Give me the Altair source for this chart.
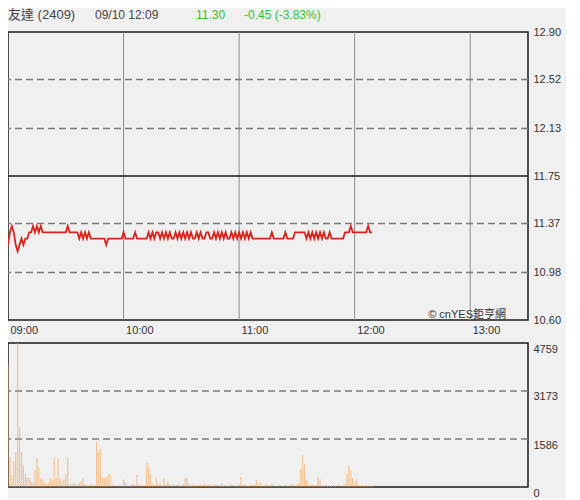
import json
import altair as alt
import pandas as pd

# ---------------- data ----------------
MINUTES = list(range(190))  # minutes after 09:00, last = 12:09

PRICE = [
    11.20, 11.30, 11.35, 11.30, 11.20, 11.15, 11.20, 11.25, 11.20, 11.25,
    11.25, 11.30, 11.30, 11.35, 11.30, 11.35, 11.30, 11.35, 11.30, 11.30,
    11.30, 11.30, 11.30, 11.30, 11.30, 11.30, 11.30, 11.30, 11.30, 11.30,
    11.30, 11.35, 11.30, 11.30, 11.30, 11.30, 11.30, 11.25, 11.30, 11.25,
    11.30, 11.25, 11.30, 11.25, 11.25, 11.25, 11.25, 11.25, 11.25, 11.25,
    11.25, 11.20, 11.25, 11.25, 11.25, 11.25, 11.25, 11.25, 11.25, 11.25,
    11.30, 11.25, 11.25, 11.25, 11.25, 11.25, 11.30, 11.25, 11.25, 11.25,
    11.25, 11.25, 11.25, 11.30, 11.25, 11.30, 11.25, 11.30, 11.30, 11.25,
    11.30, 11.25, 11.30, 11.25, 11.30, 11.25, 11.25, 11.30, 11.25, 11.30,
    11.25, 11.30, 11.25, 11.30, 11.25, 11.30, 11.25, 11.25, 11.30, 11.25,
    11.30, 11.25, 11.25, 11.30, 11.30, 11.25, 11.25, 11.30, 11.25, 11.30,
    11.25, 11.30, 11.25, 11.30, 11.25, 11.25, 11.30, 11.25, 11.30, 11.25,
    11.30, 11.25, 11.30, 11.25, 11.30, 11.25, 11.30, 11.25, 11.25, 11.25,
    11.25, 11.25, 11.25, 11.25, 11.25, 11.25, 11.25, 11.30, 11.25, 11.25,
    11.25, 11.25, 11.25, 11.25, 11.30, 11.25, 11.25, 11.25, 11.25, 11.30,
    11.30, 11.30, 11.30, 11.30, 11.30, 11.25, 11.30, 11.25, 11.30, 11.25,
    11.30, 11.25, 11.30, 11.25, 11.30, 11.25, 11.25, 11.30, 11.25, 11.25,
    11.25, 11.25, 11.25, 11.25, 11.25, 11.30, 11.30, 11.30, 11.35, 11.30,
    11.30, 11.30, 11.30, 11.30, 11.30, 11.30, 11.30, 11.35, 11.30, 11.30,
]

VOLUME = [
    4050, 990, 400, 825, 1150, 4759, 1980, 1150, 730, 430,
    330, 300, 200, 150, 560, 960, 630, 300, 250, 150,
    100, 150, 300, 250, 960, 300, 940, 300, 200, 250,
    430, 960, 120, 80, 150, 100, 60, 130, 200, 300,
    100, 80, 60, 90, 70, 50, 1510, 1150, 1250, 330,
    300, 330, 400, 430, 80, 50, 60, 40, 70, 50,
    250, 150, 60, 40, 80, 100, 60, 400, 80, 60,
    50, 70, 790, 660, 430, 100, 60, 300, 80, 120,
    60, 300, 100, 200, 80, 60, 100, 50, 80, 60,
    40, 100, 300, 300, 100, 60, 80, 50, 70, 60,
    80, 60, 100, 50, 80, 60, 40, 50, 90, 70,
    60, 120, 50, 80, 40, 60, 100, 70, 50, 60,
    80, 330, 60, 90, 50, 40, 70, 60, 80, 230,
    50, 150, 60, 40, 80, 70, 50, 100, 60, 40,
    50, 70, 60, 40, 80, 50, 60, 70, 90, 60,
    80, 120, 600, 1050, 750, 250, 80, 60, 90, 50,
    70, 330, 260, 60, 40, 80, 50, 60, 40, 70,
    50, 60, 80, 40, 60, 90, 450, 700, 550, 300,
    100, 250, 60, 40, 70, 50, 60, 40, 50, 30,
]

TIME_TICKS = [0, 60, 120, 180, 240]
TIME_LABELS = ["09:00", "10:00", "11:00", "12:00", "13:00"]
TIME_DOMAIN = [0, 270]
GRID_TIMES = [60, 120, 180, 240]

PRICE_TICKS = [12.90, 12.52, 12.13, 11.75, 11.37, 10.98, 10.60]
PRICE_DASHED = [12.52, 12.13, 11.37, 10.98]
PRICE_MID = [11.75]

VOL_TICKS = [0, 1586, 3173, 4759]
VOL_DASHED = [1586, 3173]

HEADER_NAME = "友達 (2409)"
HEADER_TIME = "09/10 12:09"
HEADER_LAST = "11.30"
HEADER_CHANGE = "-0.45 (-3.83%)"
COPYRIGHT = "© cnYES鉅亨網"

# ---------------- styling ----------------
FONT = "Liberation Sans, Arial, Noto Sans CJK TC, sans-serif"
LABEL_COLOR = "#333333"
GREEN = "#2fc42f"
W = 520
H_PRICE = 288
H_VOL = 144
HDR_Y = -17

df = pd.DataFrame({"m": MINUTES, "price": PRICE, "vol": VOLUME})

xscale = alt.Scale(domain=TIME_DOMAIN, nice=False, zero=False, padding=0)
label_expr = f"{json.dumps(TIME_LABELS)}[indexof({json.dumps(TIME_TICKS)}, datum.value)]"

pscale = alt.Scale(domain=[PRICE_TICKS[-1], PRICE_TICKS[0]], nice=False, zero=False)
vscale = alt.Scale(domain=[VOL_TICKS[0], VOL_TICKS[-1]], nice=False, padding=0)

# ---- price panel ----
price_line = alt.Chart(df).mark_line(color="#d8231d", strokeWidth=1.8).encode(
    x=alt.X("m:Q", scale=xscale, axis=alt.Axis(
        values=TIME_TICKS, labelExpr=label_expr, ticks=False, domain=False,
        grid=False, labelAlign="left", labelOffset=2, labelPadding=4,
        labelBaseline="top", labelFlush=False, labelOverlap=False,
        labelFont=FONT, labelFontSize=11, labelColor=LABEL_COLOR, title=None)),
    y=alt.Y("price:Q", scale=pscale, axis=alt.Axis(
        orient="right", values=PRICE_TICKS, format=".2f", ticks=False,
        domain=False, grid=False, labelPadding=5, labelBaseline="middle",
        labelOverlap=False, labelFlush=False, labelFont=FONT,
        labelFontSize=11, labelColor=LABEL_COLOR, title=None)),
)

vgrid = alt.Chart(pd.DataFrame({"m": GRID_TIMES})).mark_rule(
    color="#8c8c8c", strokeWidth=1).encode(x=alt.X("m:Q", scale=xscale))

pdash = alt.Chart(pd.DataFrame({"p": PRICE_DASHED})).mark_rule(
    color="#7a7a7a", strokeWidth=1.5, strokeDash=[7, 4]).encode(
    y=alt.Y("p:Q", scale=pscale))

pmid = alt.Chart(pd.DataFrame({"p": PRICE_MID})).mark_rule(
    color="#1a1a1a", strokeWidth=1.5).encode(y=alt.Y("p:Q", scale=pscale))

one = pd.DataFrame({"k": [0]})
copyright_txt = alt.Chart(one).mark_text(
    text=COPYRIGHT, align="right", baseline="middle", font=FONT,
    fontSize=11, color=LABEL_COLOR).encode(
    x=alt.value(498), y=alt.value(H_PRICE - 5))

hdr_name = alt.Chart(one).mark_text(
    text=HEADER_NAME, align="left", baseline="middle", font=FONT,
    fontSize=13, color="#444444").encode(x=alt.value(0), y=alt.value(HDR_Y))
hdr_time = alt.Chart(one).mark_text(
    text=HEADER_TIME, align="left", baseline="middle", font=FONT,
    fontSize=12, color="#444444").encode(x=alt.value(87), y=alt.value(HDR_Y))
hdr_last = alt.Chart(one).mark_text(
    text=HEADER_LAST, align="left", baseline="middle", font=FONT,
    fontSize=12, color=GREEN).encode(x=alt.value(188), y=alt.value(HDR_Y))
hdr_chg = alt.Chart(one).mark_text(
    text=HEADER_CHANGE, align="left", baseline="middle", font=FONT,
    fontSize=12, color=GREEN).encode(x=alt.value(236), y=alt.value(HDR_Y))

top = alt.layer(
    vgrid, pdash, pmid, price_line, copyright_txt,
    hdr_name, hdr_time, hdr_last, hdr_chg,
).properties(width=W, height=H_PRICE)

# ---- volume panel ----
vdash = alt.Chart(pd.DataFrame({"v": VOL_DASHED})).mark_rule(
    color="#7a7a7a", strokeWidth=1.5, strokeDash=[7, 4]).encode(
    y=alt.Y("v:Q", scale=vscale))

vbars = alt.Chart(df).mark_bar(size=1.2, color="#f2a456", opacity=0.6).encode(
    x=alt.X("m:Q", scale=xscale, axis=None),
    y=alt.Y("vol:Q", scale=vscale, axis=alt.Axis(
        orient="right", values=VOL_TICKS, format="d", ticks=False,
        domain=False, grid=False, labelPadding=5, labelBaseline="top",
        labelOverlap=False, labelFlush=False, labelFont=FONT,
        labelFontSize=11, labelColor=LABEL_COLOR, title=None)),
)

bottom = alt.layer(vdash, vbars).properties(width=W, height=H_VOL)

chart = alt.vconcat(top, bottom, spacing=23, bounds="flush").properties(
    padding={"left": -5, "top": 0, "right": 4, "bottom": 0}
).configure(background="#f0f0f0").configure_view(
    stroke="#1a1a1a", strokeWidth=1.5, fill="#f0f0f0")

chart.save("out.html", embed_options={"renderer": "svg", "actions": False})
